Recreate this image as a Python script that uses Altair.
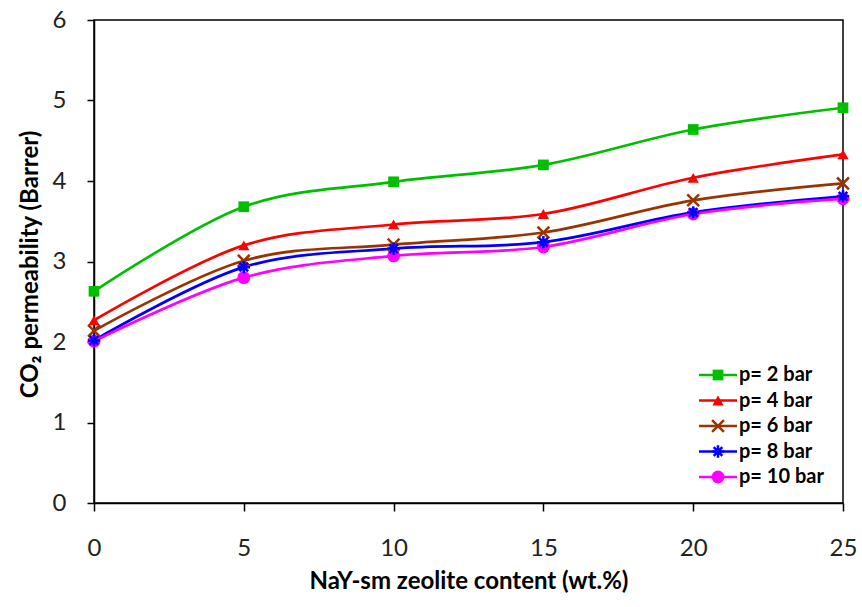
import altair as alt
import pandas as pd

# NaY-sm zeolite loading (wt.%)
zeolite = [0, 5, 10, 15, 20, 25]

# CO2 permeability (Barrer) at each feed pressure
series = ["p= 2 bar", "p= 4 bar", "p= 6 bar", "p= 8 bar", "p= 10 bar"]
perm_2bar = [2.63, 3.68, 3.99, 4.20, 4.64, 4.91]
perm_4bar = [2.27, 3.20, 3.46, 3.59, 4.04, 4.33]
perm_6bar = [2.14, 3.01, 3.21, 3.36, 3.76, 3.97]
perm_8bar = [2.02, 2.93, 3.16, 3.24, 3.61, 3.81]
perm_10bar = [2.01, 2.80, 3.07, 3.18, 3.59, 3.78]

colors = ["#00BF00", "#FF0000", "#993300", "#0000FF", "#FF00FF"]
cross_path = "M-1,-1L1,1M-1,1L1,-1"
star_path = "M-1,0L1,0M0,-1L0,1M-0.7,-0.7L0.7,0.7M-0.7,0.7L0.7,-0.7"
shapes = ["square", "triangle-up", cross_path, star_path, "circle"]
marker_sizes = [115, 165, 130, 120, 115]
filled_series = ["p= 2 bar", "p= 4 bar", "p= 10 bar"]
open_series = ["p= 6 bar", "p= 8 bar"]

rows = []
for name, vals in zip(series, [perm_2bar, perm_4bar, perm_6bar, perm_8bar, perm_10bar]):
    for x, v in zip(zeolite, vals):
        rows.append({"zeolite": x, "perm": v, "series": name})
df = pd.DataFrame(rows)
legend_df = pd.DataFrame({"series": series})

FONT = "Lato"

color_enc = alt.Color("series:N", scale=alt.Scale(domain=series, range=colors), legend=None)
shape_enc = alt.Shape("series:N", scale=alt.Scale(domain=series, range=shapes), legend=None)
size_enc = alt.Size("series:N", scale=alt.Scale(domain=series, range=marker_sizes), legend=None)

x_enc = alt.X(
    "zeolite:Q",
    scale=alt.Scale(domain=[0, 25], nice=False),
    axis=alt.Axis(
        values=zeolite, title="NaY-sm zeolite content (wt.%)", grid=False,
        tickSize=8, labelPadding=25, labelFontSize=24, labelFont=FONT, labelColor="#222222",
        labelFlush=False,
        titleFontSize=24, titleFont=FONT, titleFontWeight="bold", titleColor="black",
        titleY=85, titleBaseline="alphabetic",
        domainColor="black", domainWidth=1.5, tickColor="black", tickWidth=1.5,
    ),
)
y_enc = alt.Y(
    "perm:Q",
    scale=alt.Scale(domain=[0, 6], nice=False),
    axis=alt.Axis(
        values=[0, 1, 2, 3, 4, 5, 6], title="CO\u2082 permeability (Barrer)", grid=False,
        tickSize=7, labelPadding=21, labelFontSize=24, labelFont=FONT, labelColor="#222222",
        labelFlush=False,
        titleFontSize=24, titleFont=FONT, titleFontWeight="bold", titleColor="black",
        titleX=-57, titleY=244, titleAlign="center", titleBaseline="alphabetic",
        domainColor="black", domainWidth=1.5, tickColor="black", tickWidth=1.5,
    ),
)

base = alt.Chart(df).encode(x=x_enc, y=y_enc, color=color_enc)

lines = base.mark_line(interpolate="cardinal", strokeWidth=2.7).encode(detail="series:N")

pts_filled = base.transform_filter(
    alt.FieldOneOfPredicate(field="series", oneOf=filled_series)
).mark_point(filled=True, opacity=1).encode(shape=shape_enc, size=size_enc)

pts_open = base.transform_filter(
    alt.FieldOneOfPredicate(field="series", oneOf=open_series)
).mark_point(filled=False, opacity=1, strokeWidth=2.5).encode(shape=shape_enc, size=size_enc)

main = alt.layer(lines, pts_filled, pts_open)

# Legend box in the lower right of the plot
leg_y = alt.Y(
    "series:N",
    scale=alt.Scale(type="point", domain=series, range=[355, 457], padding=0),
    axis=None,
)
leg_base = alt.Chart(legend_df).encode(y=leg_y, color=color_enc)
leg_lines = leg_base.mark_rule(strokeWidth=2.5).encode(x=alt.value(605), x2=alt.value(643))
leg_filled = leg_base.transform_filter(
    alt.FieldOneOfPredicate(field="series", oneOf=filled_series)
).mark_point(filled=True, opacity=1).encode(x=alt.value(624), shape=shape_enc, size=size_enc)
leg_open = leg_base.transform_filter(
    alt.FieldOneOfPredicate(field="series", oneOf=open_series)
).mark_point(filled=False, opacity=1, strokeWidth=2.5).encode(x=alt.value(624), shape=shape_enc, size=size_enc)
leg_text = alt.Chart(legend_df).mark_text(
    align="left", baseline="middle", fontSize=20, font=FONT, fontWeight="bold", color="black",
).encode(x=alt.value(645), y=leg_y, text="series:N")

legend = alt.layer(leg_lines, leg_filled, leg_open, leg_text)

chart = alt.layer(main, legend).resolve_scale(
    y="independent"
).properties(
    width=749,
    height=483,
    padding={"left": 94, "top": 20, "right": 19, "bottom": 104},
    autosize=alt.AutoSizeParams(type="none"),
    background="white",
).configure_view(
    stroke="black", strokeWidth=1.5,
)

chart.save("out.html", embed_options={"renderer": "svg", "actions": False})
